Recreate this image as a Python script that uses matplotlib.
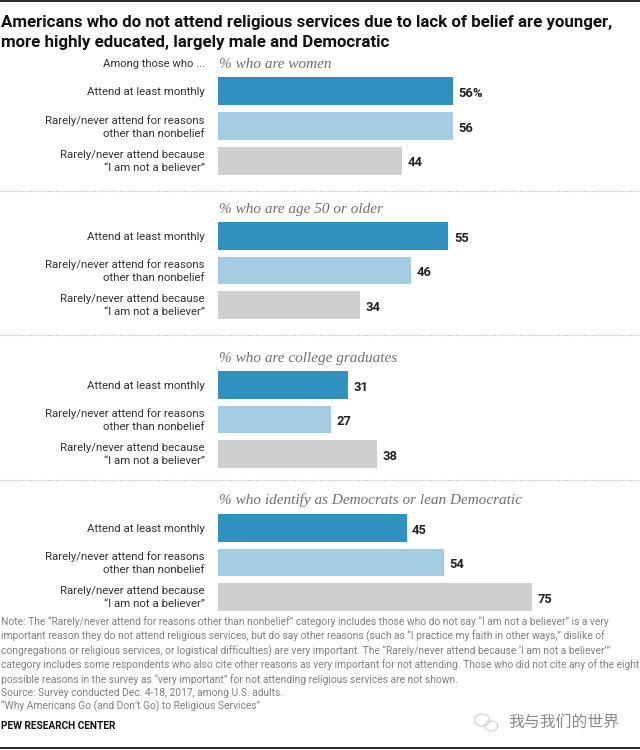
import matplotlib
matplotlib.use("Agg")
import matplotlib.pyplot as plt
from matplotlib.patches import Ellipse

W, H = 640, 750

title_lines = ["Americans who do not attend religious services due to lack of belief are younger,",
               "more highly educated, largely male and Democratic"]
panel_titles = ["% who are women", "% who are age 50 or older",
                "% who are college graduates", "% who identify as Democrats or lean Democratic"]
categories = ["Attend at least monthly",
              "Rarely/never attend for reasons\nother than nonbelief",
              "Rarely/never attend because\n\u201cI am not a believer\u201d"]
women = [56, 56, 44]
age_50 = [55, 46, 34]
college = [31, 27, 38]
democrats = [45, 54, 75]
bar_colors = ["#3090c0", "#a3cce3", "#cfcfcf"]

note_lines = [
    "Note: The \u201cRarely/never attend for reasons other than nonbelief\u201d category includes those who do not say \u201cI am not a believer\u201d is a very",
    "important reason they do not attend religious services, but do say other reasons (such as \u201cI practice my faith in other ways,\u201d dislike of",
    "congregations or religious services, or logistical difficulties) are very important. The \u201cRarely/never attend because \u2018I am not a believer\u2019\u201d",
    "category includes some respondents who also cite other reasons as very important for not attending. Those who did not cite any of the eight",
    "possible reasons in the survey as \u201cvery important\u201d for not attending religious services are not shown.",
    "Source: Survey conducted Dec. 4-18, 2017, among U.S. adults.",
    "\u201cWhy Americans Go (and Don\u2019t Go) to Religious Services\u201d",
]
note_y = [622, 636, 651, 665, 680, 693, 706]

plt.rcParams["font.family"] = ["Roboto", "DejaVu Sans"]

fig = plt.figure(figsize=(W / 100, H / 100), dpi=100, facecolor="white")


def fy(y):
    return 1 - y / H


def ftext(x, y, s, **kw):
    kw.setdefault("va", "center")
    return fig.text(x / W, fy(y), s, **kw)


# top and bottom rules
fig.add_artist(plt.Line2D([0, 1], [fy(1), fy(1)], color="black", lw=1.2))
fig.add_artist(plt.Line2D([0, 1], [fy(748), fy(748)], color="black", lw=1.2))

ftext(1, 23, title_lines[0], fontsize=12.15, fontweight="bold", color="#111111")
ftext(1, 43, title_lines[1], fontsize=12.15, fontweight="bold", color="#111111")
ftext(205, 64, "Among those who ...", fontsize=8.1, color="#333333", ha="right")

panels = [(women, 77, 175, 65), (age_50, 222, 319, 209),
          (college, 371, 468, 358), (democrats, 514, 611, 500)]

for i, (vals, top, bottom, title_y) in enumerate(panels):
    ax = fig.add_axes([218 / W, fy(bottom + 3.25), 419 / W, (bottom - top + 6.5) / H])
    ypos = range(len(categories))
    ax.barh(ypos, vals, height=0.805, color=bar_colors)
    ax.set_xlim(0, 100)
    ax.set_ylim(2.5, -0.5)
    ax.axis("off")
    for j, v in enumerate(vals):
        label = f"{v}%" if i == 0 and j == 0 else str(v)
        ax.annotate(label, (v, j), xytext=(4, -1.5), textcoords="offset points", va="center",
                    fontsize=9.4, fontweight="bold", color="#222222")
        ax.annotate(categories[j], (0, j), xytext=(-9.5, -0.5), textcoords="offset points",
                    va="center", ha="right", fontsize=8.2, color="#333333", linespacing=1.4,
                    annotation_clip=False)
    ftext(219, title_y, panel_titles[i], fontsize=11, style="italic", color="#707070",
          family=["Liberation Serif", "DejaVu Serif"])

for y in [191, 335, 480]:
    fig.add_artist(plt.Line2D([0, 1], [fy(y), fy(y)], color="#b5b5b5", lw=0.8, ls=(0, (1, 1.5))))

for line, y in zip(note_lines, note_y):
    ftext(1, y, line, fontsize=7.42, color="#808080")
ftext(1, 726, "PEW RESEARCH CENTER", fontsize=7.3, fontweight="bold", color="#111111")

# watermark
ftext(508, 722, "\u6211\u4e0e\u6211\u4eec\u7684\u4e16\u754c", fontsize=11.4, color="#8a8a8a",
      family=["Noto Sans CJK SC", "DejaVu Sans"])
ax_mark = fig.add_axes([0, 0, 1, 1], facecolor="none")
ax_mark.set_xlim(0, W)
ax_mark.set_ylim(H, 0)
ax_mark.axis("off")
ax_mark.add_patch(Ellipse((482, 720), 15, 12, fill=False, ec="#c8c8c8", lw=0.7))
ax_mark.add_patch(Ellipse((491, 726), 13, 10, fill=False, ec="#c8c8c8", lw=0.7))

fig.savefig("out.png", dpi=100)
